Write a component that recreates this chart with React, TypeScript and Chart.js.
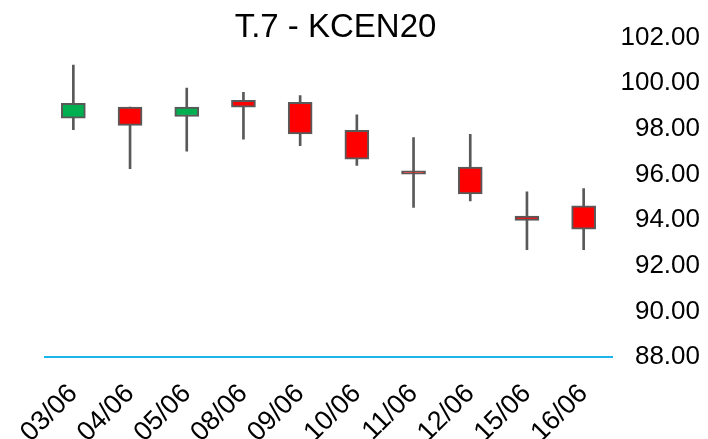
import React, { useEffect, useRef } from "react";
import { Chart, registerables } from "chart.js";

Chart.register(...registerables);

const titleText = "T.7 - KCEN20";
const categories = ["03/06", "04/06", "05/06", "08/06", "09/06", "10/06", "11/06", "12/06", "15/06", "16/06"];
const openValues = [98.46, 98.95, 98.54, 99.25, 99.16, 97.93, 96.16, 96.32, 94.17, 94.62];
const closeValues = [99.11, 98.15, 98.95, 98.95, 97.77, 96.67, 96.01, 95.15, 93.98, 93.6];
const highValues = [100.79, 98.95, 99.78, 99.6, 99.46, 98.61, 97.61, 97.76, 95.24, 95.38];
const lowValues = [97.96, 96.25, 97.02, 97.54, 97.26, 96.4, 94.55, 94.84, 92.7, 92.7];
const yMin = 88;
const yMax = 102;
const yStep = 2;

const FONT = '"Liberation Sans", Arial, sans-serif';

const titlePlugin = {
  id: "customTitle",
  afterDraw(chart: any) {
    const ctx = chart.ctx;
    ctx.save();
    ctx.font = `33px ${FONT}`;
    ctx.fillStyle = "#000";
    ctx.textAlign = "center";
    ctx.textBaseline = "alphabetic";
    ctx.fillText(titleText, 335.5, 37);
    ctx.restore();
  },
};

export default function App() {
  const ref = useRef<HTMLCanvasElement | null>(null);
  useEffect(() => {
    document.body.style.margin = "0";
    if (!ref.current) return;
    const bodyColors = openValues.map((o, i) => (closeValues[i] >= o ? "#00b050" : "#ff0000"));
    const chart = new Chart(ref.current, {
      type: "bar",
      data: {
        labels: categories,
        datasets: [
          {
            label: "body",
            data: categories.map((_, i) => [openValues[i], closeValues[i]]) as any,
            backgroundColor: bodyColors,
            borderColor: "#595959",
            borderWidth: 2,
            borderSkipped: false,
            barThickness: 24,
            grouped: false,
            order: 1,
          },
          {
            label: "wick",
            data: categories.map((_, i) => [lowValues[i], highValues[i]]) as any,
            backgroundColor: "#595959",
            borderWidth: 0,
            barThickness: 2,
            grouped: false,
            order: 2,
          },
        ],
      },
      options: {
        animation: false,
        responsive: false,
        maintainAspectRatio: false,
        layout: { padding: { top: 37.5, left: 45, right: 8, bottom: 0 } },
        plugins: {
          legend: { display: false },
          title: { display: false },
          tooltip: { enabled: false },
        },
        scales: {
          x: {
            offset: true,
            grid: { display: false, drawTicks: false },
            border: { display: true, color: "#1cb4ec", width: 2 },
            ticks: {
              color: "#000",
              font: { family: FONT, size: 27 },
              minRotation: 45,
              maxRotation: 45,
              padding: 21,
              autoSkip: false,
            },
            afterFit(scale: any) {
              scale.height = 82;
            },
          },
          y: {
            position: "right",
            min: yMin,
            max: yMax,
            grid: { display: false, drawTicks: false },
            border: { display: false },
            ticks: {
              stepSize: yStep,
              color: "#000",
              font: { family: FONT, size: 26 },
              crossAlign: "far",
              padding: 11,
              callback: (v: any) => Number(v).toFixed(2),
            },
            afterFit(scale: any) {
              scale.width = 88;
            },
          },
        },
      },
      plugins: [titlePlugin],
    });
    return () => chart.destroy();
  }, []);
  return (
    <div style={{ width: 708, height: 439 }}>
      <canvas ref={ref} width={708} height={439} style={{ width: 708, height: 439, display: "block" }} />
    </div>
  );
}
